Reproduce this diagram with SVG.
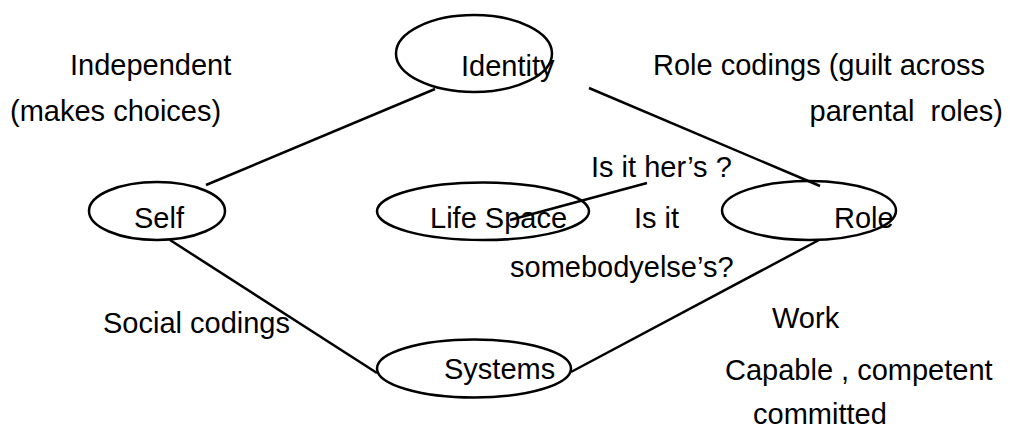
<svg xmlns="http://www.w3.org/2000/svg" width="1010" height="432" viewBox="0 0 1010 432">
<style>
text{font-family:"Liberation Sans",Arial,sans-serif;font-size:29px;fill:#000}
ellipse{fill:none;stroke:#000;stroke-width:2.5}
line{stroke:#000;stroke-width:2.5}
</style>
<rect width="1010" height="432" fill="#fff"/>
<g id="connectors">
<line x1="206" y1="185" x2="435" y2="89"/>
<line x1="589" y1="88" x2="820" y2="186"/>
<line x1="510" y1="220" x2="647" y2="183"/>
<line x1="819" y1="240" x2="571" y2="372"/>
<line x1="170" y1="240" x2="377" y2="373"/>
</g>
<g id="identity"><ellipse cx="474" cy="53.5" rx="78" ry="38.5"/><text x="461" y="76">Identity</text></g>
<g id="self"><ellipse cx="157" cy="211" rx="68" ry="29"/><text x="134" y="228">Self</text></g>
<g id="lifespace"><ellipse cx="483" cy="211.3" rx="106" ry="28.7"/><text x="430" y="228">Life Space</text></g>
<g id="role"><ellipse cx="809" cy="210.5" rx="87" ry="29.5"/><text x="834" y="228">Role</text></g>
<g id="systems"><ellipse cx="474" cy="368.5" rx="97" ry="29"/><text x="444" y="379">Systems</text></g>
<g id="labels">
<text x="70" y="75">Independent</text>
<text x="10" y="121">(makes choices)</text>
<text x="653" y="75">Role codings (guilt across</text>
<text x="1003" y="121" text-anchor="end" xml:space="preserve">parental  roles)</text>
<text x="591" y="177">Is it her’s ?</text>
<text x="634" y="228">Is it</text>
<text x="510" y="277">somebodyelse’s?</text>
<text x="103" y="333">Social codings</text>
<text x="772" y="328">Work</text>
<text x="725" y="380">Capable , competent</text>
<text x="753" y="424">committed</text>
</g>
</svg>
